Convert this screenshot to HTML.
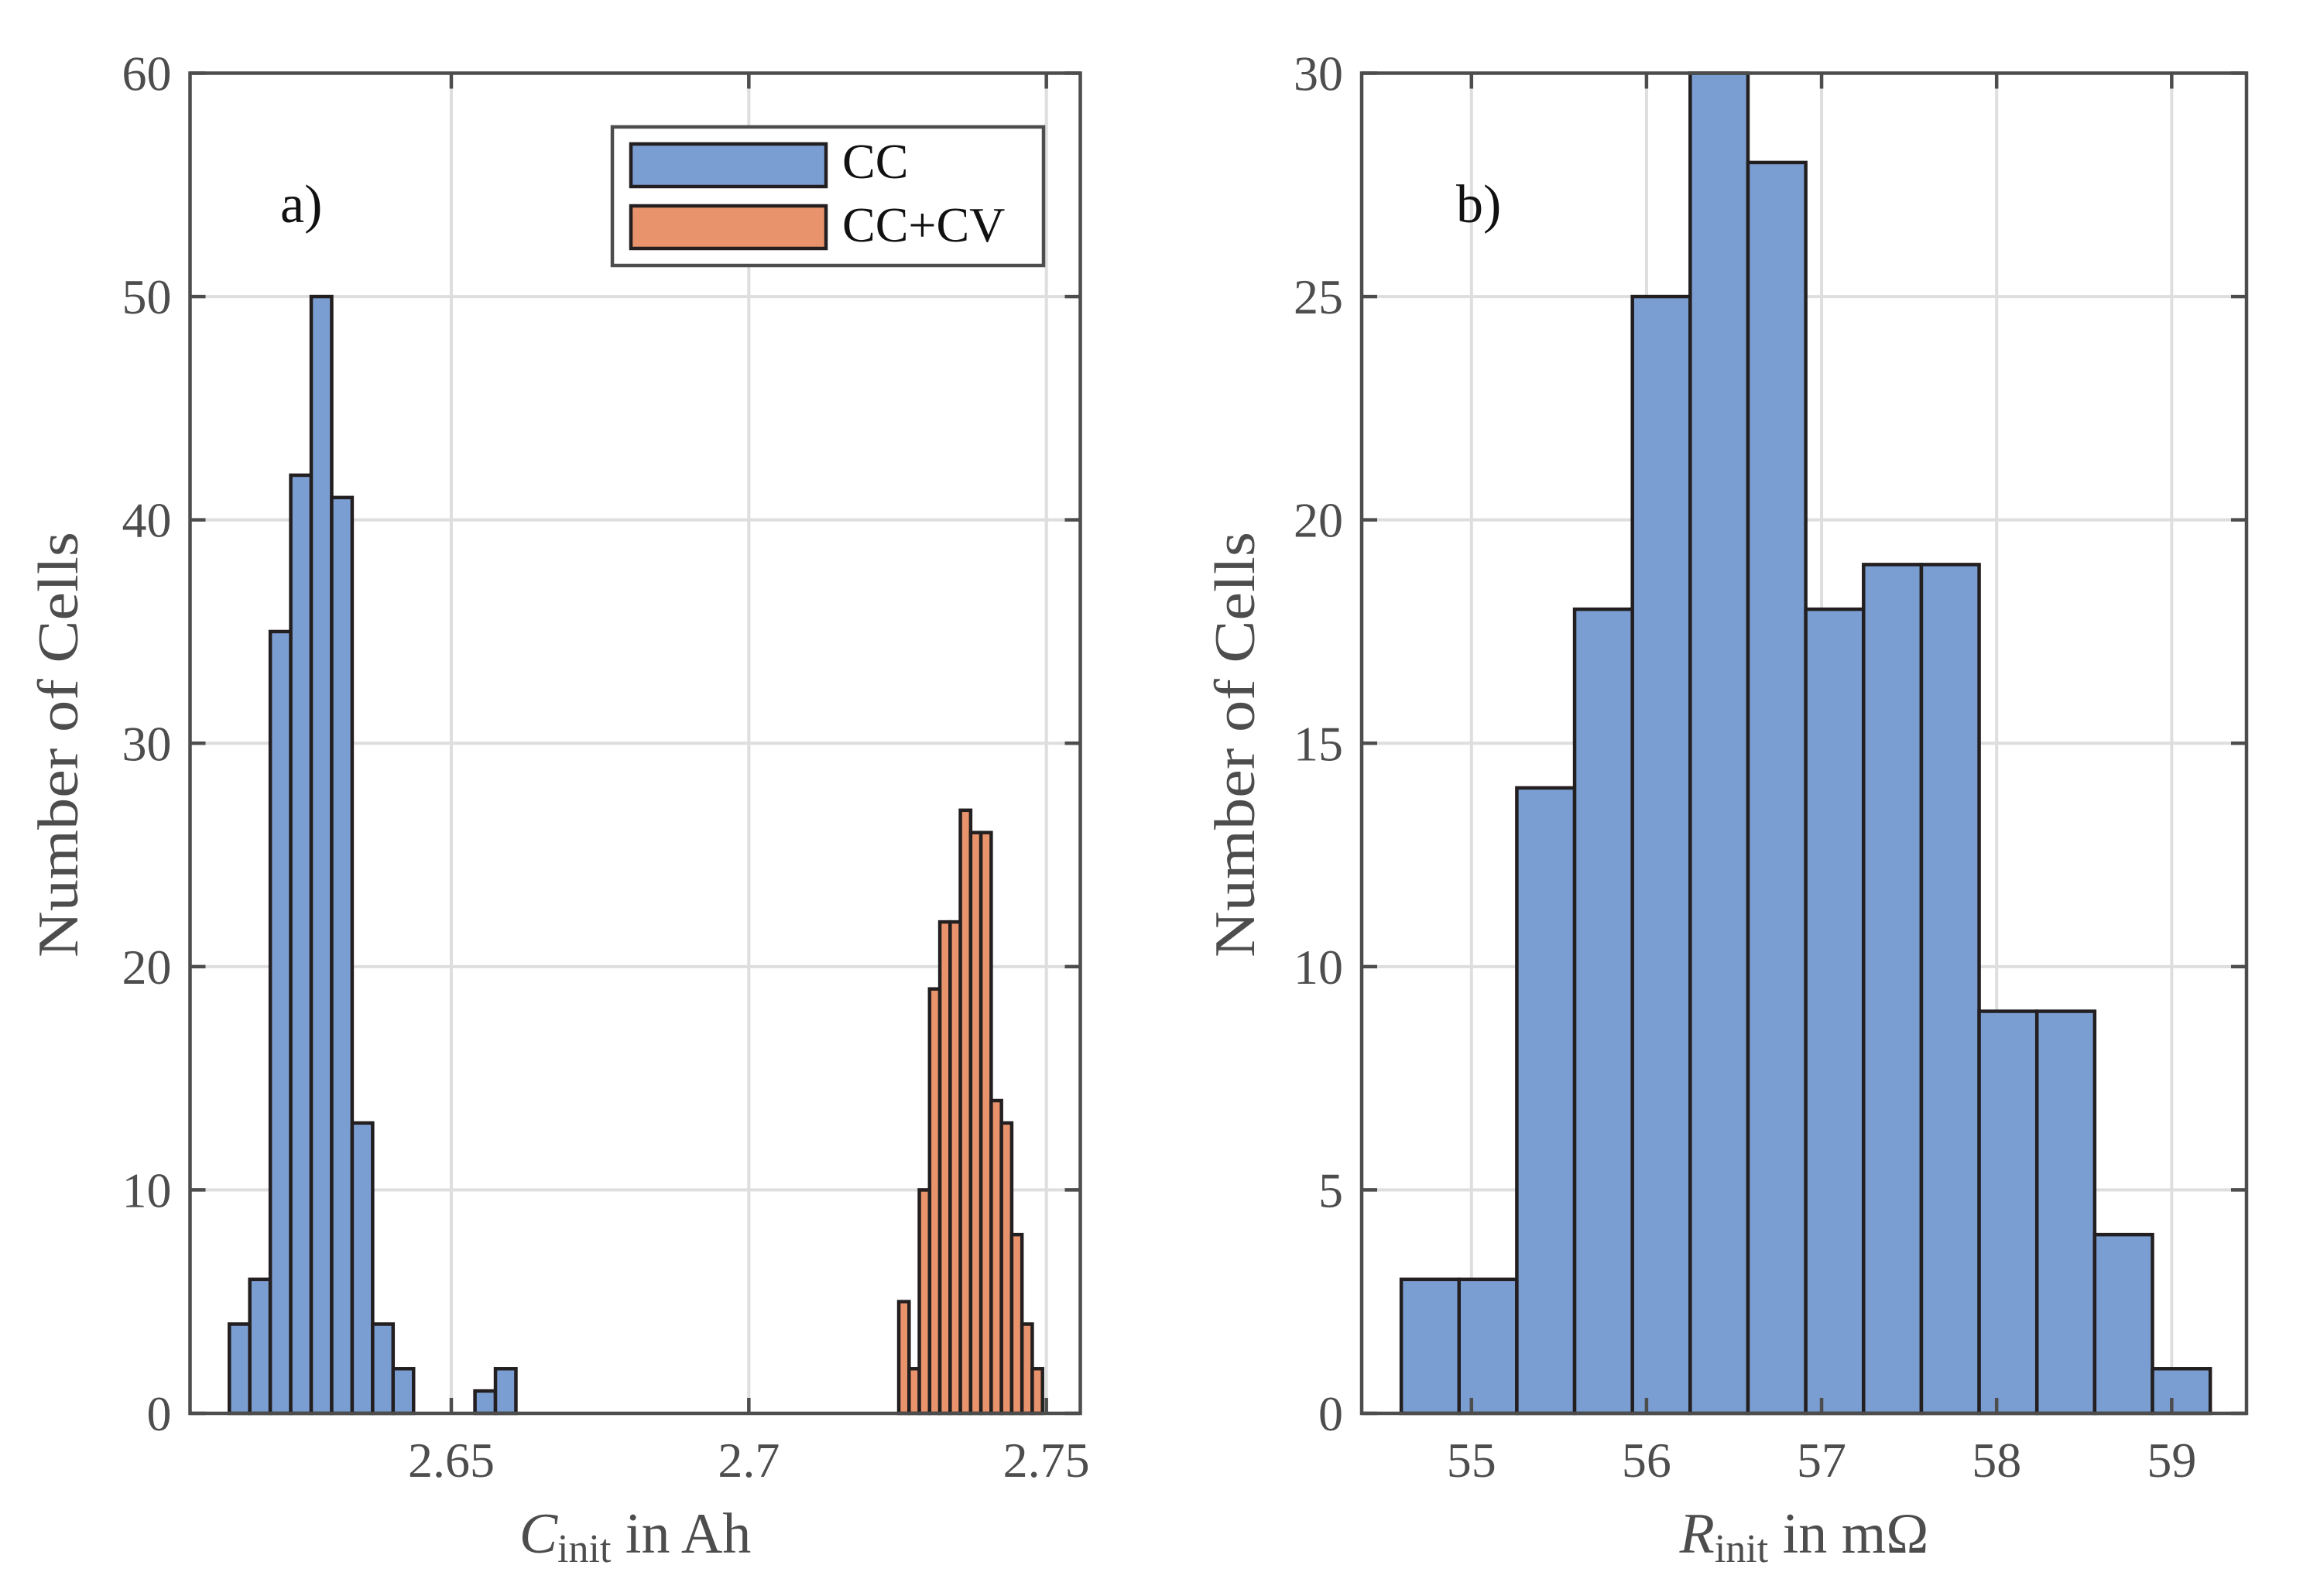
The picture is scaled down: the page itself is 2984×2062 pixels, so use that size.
<!DOCTYPE html>
<html><head><meta charset="utf-8"><style>
html,body{margin:0;padding:0;background:#fff;}
svg{display:block;}
text{font-family:"Liberation Serif",serif;}
</style></head><body>
<svg id="chart" width="2984" height="2062" viewBox="0 0 2984 2062" xmlns="http://www.w3.org/2000/svg">
<rect width="2984" height="2062" fill="#fff"/>
<g id="pa"></g>
<g id="pb"></g>
</svg>
<script>
// Panel a data
const aBlueStart = 2.6127;
const aBlueWidth = 0.00344;
const aBlueCounts = [4, 6, 35, 42, 50, 41, 13, 4, 2, 0, 0, 0, 1, 2];
const aOrangeStart = 2.7252;
const aOrangeWidth = 0.001725;
const aOrangeCounts = [5, 2, 10, 19, 22, 22, 27, 26, 26, 14, 13, 8, 4, 2];
const aXTicks = [2.65, 2.7, 2.75];
const aXTickLabels = ["2.65", "2.7", "2.75"];
const aYTicks = [0, 10, 20, 30, 40, 50, 60];
// Panel b data
const bStart = 54.599;
const bWidth = 0.3301;
const bCounts = [3, 3, 14, 18, 25, 30, 28, 18, 19, 19, 9, 9, 4, 1];
const bXTicks = [55, 56, 57, 58, 59];
const bYTicks = [0, 5, 10, 15, 20, 25, 30];

const NS = "http://www.w3.org/2000/svg";
function mk(parent, tag, attrs, txt) {
  const e = document.createElementNS(NS, tag);
  for (const k in attrs) e.setAttribute(k, attrs[k]);
  if (txt !== undefined) e.textContent = txt;
  parent.appendChild(e);
  return e;
}
const AX = "#4d4d4d", BLUE = "#7b9ed2", ORANGE = "#e8936b", EDGE = "#231f20";

function panel(g, P) {
  const sx = v => P.x0 + (v - P.xmin) / (P.xmax - P.xmin) * (P.x1 - P.x0);
  const sy = v => P.y1 - (v - P.ymin) / (P.ymax - P.ymin) * (P.y1 - P.y0);
  P.xticks.forEach((t, i) => {
    const l = mk(g, "line", {x1: sx(t), x2: sx(t), y1: P.y0, y2: P.y1, stroke: "#dedede", "stroke-width": 4});
    
    
  });
  P.yticks.forEach(t => {
    const l = mk(g, "line", {x1: P.x0, x2: P.x1, y1: sy(t), y2: sy(t), stroke: "#dedede", "stroke-width": 4});
    
    
  });
  P.series.forEach(s => {
    s.counts.forEach((c, i) => {
      if (c <= 0) return;
      const xa = sx(s.start + i * s.width), xb = sx(s.start + (i + 1) * s.width);
      const r = mk(g, "rect", {x: xa, y: sy(c), width: xb - xa, height: sy(0) - sy(c), fill: s.color, stroke: EDGE, "stroke-width": 4.5});
      
      
    });
  });
  const box = mk(g, "rect", {x: P.x0, y: P.y0, width: P.x1 - P.x0, height: P.y1 - P.y0, fill: "none", stroke: AX, "stroke-width": 4.5});
  
  
  const TL = 20;
  P.xticks.forEach((t, i) => {
    mk(g, "line", {x1: sx(t), x2: sx(t), y1: P.y1, y2: P.y1 - TL, stroke: AX, "stroke-width": 4.5});
    mk(g, "line", {x1: sx(t), x2: sx(t), y1: P.y0, y2: P.y0 + TL, stroke: AX, "stroke-width": 4.5});
    const tx = mk(g, "text", {x: sx(t), y: 1908, "text-anchor": "middle", "font-size": 64, fill: AX}, P.xlabels[i]);
    
    
  });
  P.yticks.forEach(t => {
    mk(g, "line", {x1: P.x0, x2: P.x0 + TL, y1: sy(t), y2: sy(t), stroke: AX, "stroke-width": 4.5});
    mk(g, "line", {x1: P.x1, x2: P.x1 - TL, y1: sy(t), y2: sy(t), stroke: AX, "stroke-width": 4.5});
    const tx = mk(g, "text", {x: P.x0 - 24, y: sy(t) + 22, "text-anchor": "end", "font-size": 64, fill: AX}, String(t));
    
    
  });
  const yl = mk(g, "text", {x: 0, y: 0, "text-anchor": "middle", "font-size": 74, fill: AX, textLength: 550, lengthAdjust: "spacingAndGlyphs",
    transform: `translate(${P.ylx},962) rotate(-90)`}, "Number of Cells");
  
  
  const xl = mk(g, "text", {x: (P.x0 + P.x1) / 2, y: 2006, "text-anchor": "middle", "font-size": 74, fill: AX});
  
  
  mk(xl, "tspan", {"font-style": "italic"}, P.xsym);
  mk(xl, "tspan", {"font-size": 52, dy: 12}, "init");
  mk(xl, "tspan", {dy: -12}, " in " + P.xunit);
  const pl = mk(g, "text", {x: P.plx, y: 287, "font-size": 70, fill: "#111"}, P.plabel);
  
  
}

panel(document.getElementById("pa"), {
  x0: 245.5, x1: 1395.5, y0: 94.5, y1: 1826,
  xmin: 2.6061, xmax: 2.7557, ymin: 0, ymax: 60,
  xticks: aXTicks, xlabels: aXTickLabels, yticks: aYTicks,
  series: [
    {name: "cc", start: aBlueStart, width: aBlueWidth, counts: aBlueCounts, color: BLUE},
    {name: "cc-cv", start: aOrangeStart, width: aOrangeWidth, counts: aOrangeCounts, color: ORANGE}
  ],
  ylx: 100, xsym: "C", xunit: "Ah", plx: 362, plabel: "a)"
});
panel(document.getElementById("pb"), {
  x0: 1759, x1: 2902, y0: 94.5, y1: 1826,
  xmin: 54.373, xmax: 59.4275, ymin: 0, ymax: 30,
  xticks: bXTicks, xlabels: bXTicks.map(String), yticks: bYTicks,
  series: [{name: "r-init", start: bStart, width: bWidth, counts: bCounts, color: BLUE}],
  ylx: 1620, xsym: "R", xunit: "mΩ", plx: 1881, plabel: "b)"
});

const svg = document.getElementById("chart");
const lg = mk(svg, "g", {});


mk(lg, "rect", {x: 791, y: 164, width: 557, height: 179, fill: "#fff", stroke: AX, "stroke-width": 4.5});
const e1 = mk(lg, "g", {});


mk(e1, "rect", {x: 815, y: 186, width: 252, height: 55, fill: BLUE, stroke: EDGE, "stroke-width": 4.5});
mk(e1, "text", {x: 1088, y: 230, "font-size": 64, fill: "#111"}, "CC");
const e2 = mk(lg, "g", {});


mk(e2, "rect", {x: 815, y: 266, width: 252, height: 55, fill: ORANGE, stroke: EDGE, "stroke-width": 4.5});
mk(e2, "text", {x: 1088, y: 312, "font-size": 64, fill: "#111"}, "CC+CV");
</script>
</body></html>
